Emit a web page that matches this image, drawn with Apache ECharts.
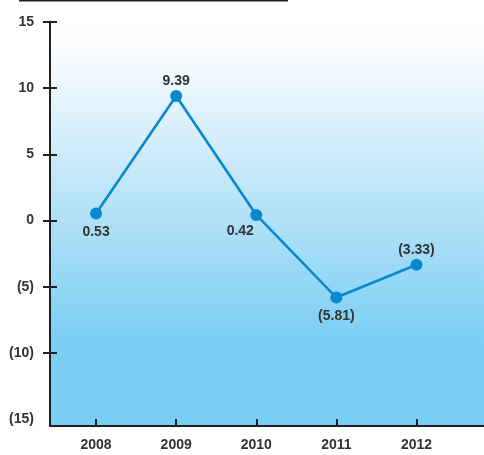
<!DOCTYPE html>
<html>
<head>
<meta charset="utf-8">
<style>
  html, body { margin: 0; padding: 0; background: #ffffff; }
  #chart { width: 484px; height: 455px; }
</style>
<script src="https://cdn.jsdelivr.net/npm/echarts@6/dist/echarts.min.js"></script>
</head>
<body>
<div id="chart"></div>
<script>
// Annual change, 2008–2012
const years = [2008, 2009, 2010, 2011, 2012];
const values = [0.53, 9.39, 0.42, -5.81, -3.33];
const yLabels = [15, 10, 5, 0, -5, -10, -15];
const yTicks = [15, 10, 5, 0, -5, -10];

// Label placement for each point's value
const labelPlacement = ['bottom', 'top', 'bottom', 'bottom', 'top'];
const labelShift = [[0, 0], [0, 0], [-16, -3], [0, 0], [0, 0]];

const X_MIN = 2007.425, X_MAX = 2012.843;
const Y_MIN = -15.5, Y_MAX = 15;

const ink = '#231f20';
const textColor = '#333333';
const lineBlue = '#0a88cf';

function fmtNum(v, digits) {
  const s = Math.abs(v).toFixed(digits);
  return v < 0 ? '(' + s + ')' : s;
}

const chart = echarts.init(document.getElementById('chart'), null, { renderer: 'canvas' });

const baseText = {
  fontFamily: '"Liberation Sans", Arial, Helvetica, sans-serif',
  fontSize: 14,
  fontWeight: 'bold',
  color: textColor
};

chart.setOption({
  animation: false,
  grid: {
    left: 50, right: 0, top: 21.7, bottom: 29,
    show: true,
    borderWidth: 0,
    backgroundColor: new echarts.graphic.LinearGradient(0, 0, 0, 1, [
      { offset: 0, color: '#ffffff' },
      { offset: 0.045, color: '#fdfeff' },
      { offset: 0.42, color: '#bde5f8' },
      { offset: 0.78, color: '#7ccff4' },
      { offset: 1, color: '#7ccff4' }
    ])
  },
  graphic: [{
    type: 'line',
    shape: { x1: 19, y1: 0.5, x2: 288, y2: 0.5 },
    style: { stroke: ink, lineWidth: 2 },
    silent: true
  }],
  xAxis: [{
    type: 'value',
    min: X_MIN, max: X_MAX,
    splitLine: { show: false },
    axisLine: { show: true, onZero: false, lineStyle: { color: ink, width: 2 } },
    axisTick: { show: true, inside: true, length: 7, customValues: years, lineStyle: { color: ink, width: 2 } },
    axisLabel: Object.assign({ margin: 12, customValues: years, formatter: v => String(Math.round(v)) }, baseText)
  }, {
    // short extension of the vertical axis below the baseline
    type: 'value',
    position: 'bottom',
    min: X_MIN, max: X_MAX,
    splitLine: { show: false },
    axisLine: { show: false },
    axisTick: { show: true, inside: false, length: 9, customValues: [X_MIN], lineStyle: { color: ink, width: 2 } },
    axisLabel: { show: false }
  }],
  yAxis: [{
    type: 'value',
    min: Y_MIN, max: Y_MAX,
    splitLine: { show: false },
    axisLine: { show: true, onZero: false, lineStyle: { color: ink, width: 2 } },
    axisTick: { show: true, inside: false, length: 7, customValues: yTicks, lineStyle: { color: ink, width: 2 } },
    axisLabel: Object.assign({ margin: 16, customValues: yLabels, formatter: v => fmtNum(v, 0) }, baseText)
  }, {
    // inner half of the crossing tick marks
    type: 'value',
    position: 'left',
    min: Y_MIN, max: Y_MAX,
    splitLine: { show: false },
    axisLine: { show: false },
    axisTick: { show: true, inside: true, length: 7, customValues: yTicks, lineStyle: { color: ink, width: 2 } },
    axisLabel: { show: false }
  }],
  series: [{
    type: 'line',
    xAxisIndex: 0,
    yAxisIndex: 0,
    data: years.map((yr, i) => ({
      value: [yr, values[i]],
      label: {
        position: labelPlacement[i],
        offset: labelShift[i],
        distance: labelPlacement[i] === 'top' ? 2 : 6
      }
    })),
    symbol: 'circle',
    symbolSize: 12,
    itemStyle: { color: lineBlue },
    lineStyle: { color: lineBlue, width: 2.6 },
    label: Object.assign({
      show: true,
      formatter: p => fmtNum(p.value[1], 2)
    }, baseText)
  }]
});
</script>
</body>
</html>
